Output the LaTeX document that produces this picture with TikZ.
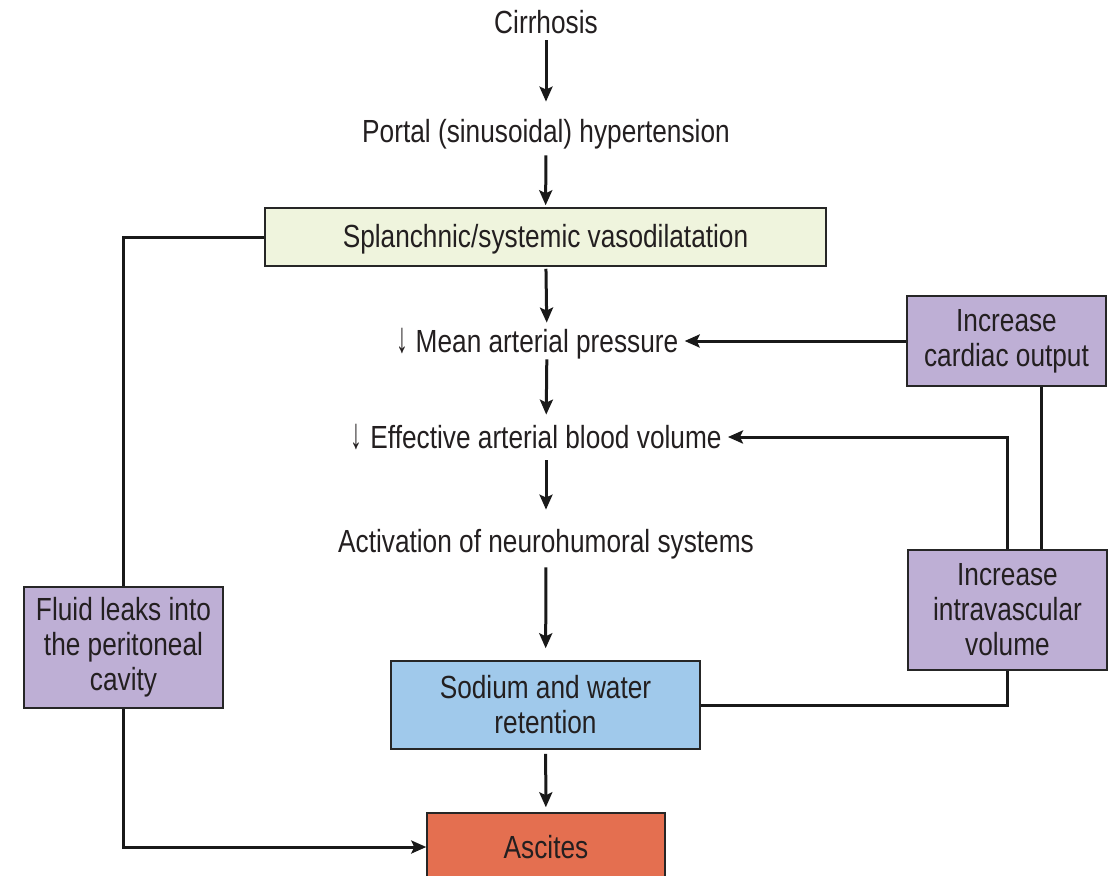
\documentclass[tikz,border=0pt]{standalone}
\usepackage{fontspec}
\usepackage{graphicx}
\setmainfont[FakeStretch=0.82]{Liberation Sans}
\usetikzlibrary{arrows.meta}
\definecolor{txtc}{HTML}{231F20}
\definecolor{greenfill}{HTML}{EFF4DD}
\definecolor{purplefill}{HTML}{BEAFD5}
\definecolor{bluefill}{HTML}{A0C9EB}
\definecolor{ascfill}{HTML}{E46F50}
\newcommand{\decr}{\raisebox{-0.5pt}{\scalebox{0.9}[1.35]{↓}}}
\tikzset{
  box/.style={draw=black!85, line width=0.75pt, inner sep=0pt, align=center, text=txtc},
  plain/.style={inner xsep=3pt, inner ysep=1.5pt, text height=13pt, text depth=2pt, text=txtc},
  downlab/.style={label={[text=txtc, inner sep=0pt, label distance=0.5pt]left:\decr}},
  ln/.style={line width=1.5pt, draw=black!90},
  arr/.style={ln, -{Stealth[length=7.5pt, width=6.5pt, inset=1.5pt]}},
}
\begin{document}
\begin{tikzpicture}[x=0.5pt, y=-0.5pt, font=\fontsize{16}{17.5}\selectfont]
\useasboundingbox (0,0) rectangle (1115,875);

% text nodes
\node[plain] (cir) at (546,22) {Cirrhosis};
\node[plain] (por) at (546,131) {Portal (sinusoidal) hypertension};
\node[plain, downlab] (map) at (547,341) {Mean arterial pressure};
\node[plain, downlab] (eabv) at (546,437) {Effective arterial blood volume};
\node[plain] (act) at (546,541) {Activation of neurohumoral systems};

% boxes
\node[box, fill=greenfill, minimum width=280.5pt, minimum height=29pt, text height=12.5pt, text depth=2.2pt] (spl) at (545.5,237) {Splanchnic/systemic vasodilatation};
\node[box, fill=purplefill, minimum width=99.5pt, minimum height=45pt] (card) at (1006.5,341) {Increase\\cardiac output};
\node[box, fill=purplefill, minimum width=99.5pt, minimum height=60pt] (intra) at (1007.5,610) {Increase\\intravascular\\volume};
\node[box, fill=bluefill, minimum width=154.5pt, minimum height=44pt] (sod) at (545.5,705) {Sodium and water\\retention};
\node[box, fill=purplefill, minimum width=99.5pt, minimum height=60.5pt] (fluid) at (123.5,647.5) {Fluid leaks into\\the peritoneal\\cavity};
\node[box, fill=ascfill, minimum width=119pt, minimum height=34pt] (asc) at (546,847) {Ascites};

\coordinate (cx) at (1041,0);

% main chain
\draw[arr, shorten >=5.5pt] (cir) -- (por);
\draw[arr, shorten <=3pt, shorten >=1pt] (por) -- (spl);
\draw[arr, shorten <=1pt] (spl) -- (map);
\draw[arr, shorten >=2pt] (map) -- (eabv);
\draw[arr, shorten <=2.5pt, shorten >=6.5pt] (eabv) -- (act);
\draw[arr, shorten <=4pt, shorten >=6pt] (act) -- (sod);
\draw[arr, shorten <=2pt, shorten >=2.5pt] (sod) -- (asc);

% feedback loops
\draw[arr] (card.west) -- (map.east);
\draw[arr] (intra.north) |- (eabv.east);
\draw[ln] (card.south -| cx) -- (intra.north -| cx);
\draw[ln] (sod.east) -| (intra.south);
\draw[ln] (spl.west) -| (fluid.north);
\draw[arr] (fluid.south) |- (asc.west);
\end{tikzpicture}
\end{document}
